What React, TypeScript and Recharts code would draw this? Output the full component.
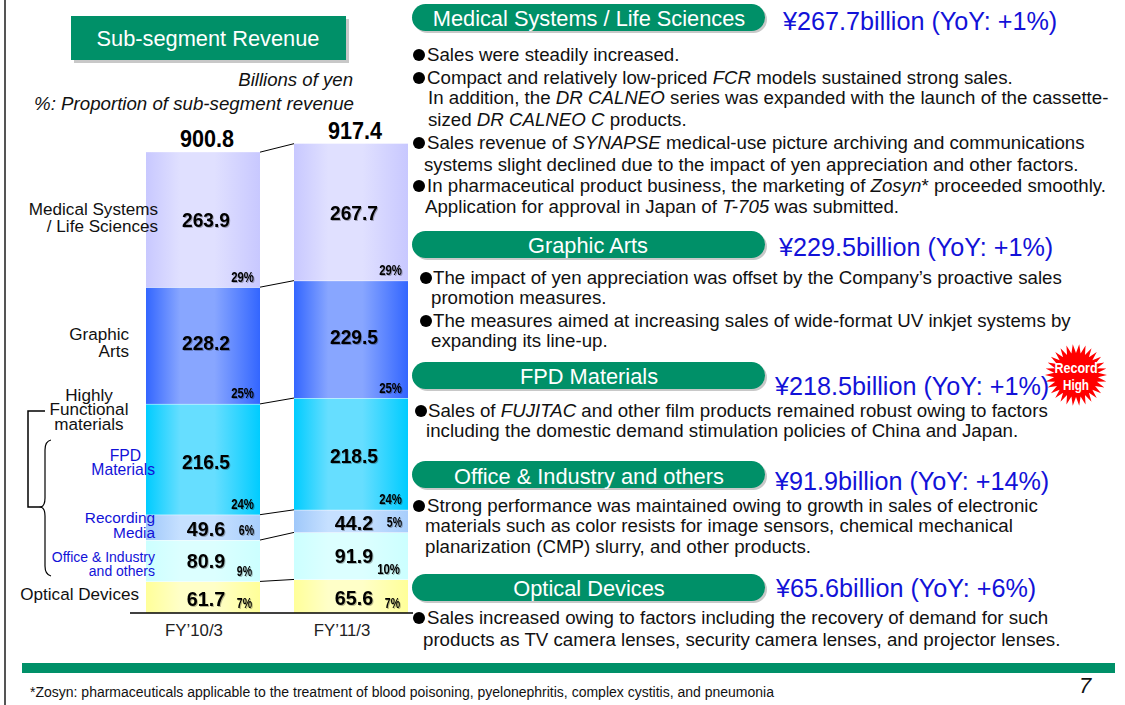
import React from "react";
import { BarChart, Bar, XAxis, YAxis, LabelList } from "recharts";

const FONT = "'Liberation Sans', Arial, sans-serif";
const categories = ["FY’10/3", "FY’11/3"];
const optical = [61.7, 65.6];
const office = [80.9, 91.9];
const recording = [49.6, 44.2];
const fpd = [216.5, 218.5];
const graphic = [228.2, 229.5];
const medical = [263.9, 267.7];
const totals = ["900.8", "917.4"];
const opticalPct = ["7%", "7%"];
const officePct = ["9%", "10%"];
const recordingPct = ["6%", "5%"];
const fpdPct = ["24%", "24%"];
const graphicPct = ["25%", "25%"];
const medicalPct = ["29%", "29%"];

const stackOrder = [optical, office, recording, fpd, graphic, medical];
const rows = categories.map((name, i) => ({
  name,
  optical: optical[i],
  office: office[i],
  recording: recording[i],
  fpd: fpd[i],
  graphic: graphic[i],
  medical: medical[i],
}));
const cumulative = (level: number, i: number) =>
  stackOrder.slice(0, level + 1).reduce((s, a) => s + a[i], 0);

const GREEN = "#009068";
const BLUE = "#1212d8";
const SHADOW = "drop-shadow(1px 1px 0 rgba(0,0,0,0.28))";
const GAP = 34;

function Segment(level: number, gradient: string) {
  return (p: any) => {
    const { x, y, width, height, index, value } = p;
    const span = Array.isArray(value) ? value[1] - value[0] : value;
    const perUnit = height / span;
    const nextY = index === 0 ? y - (cumulative(level, 1) - cumulative(level, 0)) * perUnit : 0;
    return (
      <g>
        <rect x={x} y={y} width={width} height={height} fill={`url(#${gradient})`} />
        {level < 5 && <line x1={x} x2={x + width} y1={y} y2={y} stroke="#fff" strokeWidth={1} />}
        {index === 0 && (
          <line x1={x + width} y1={y} x2={x + width + GAP} y2={nextY} stroke="#000" strokeWidth={1} />
        )}
      </g>
    );
  };
}

function valueLabel(dy: number) {
  return (p: any) => {
    const label = String(p.value);
    return (
      <text
        x={p.x + p.width / 2 + 3}
        y={p.y + p.height / 2 + dy}
        textAnchor="middle"
        dominantBaseline="central"
        fontFamily={FONT}
        fontWeight="bold"
        fontSize={21}
        textLength={9.6 * label.length}
        lengthAdjust="spacingAndGlyphs"
        fill="#000"
        style={{ filter: SHADOW }}
      >
        {label}
      </text>
    );
  };
}

function pctLabel(list: string[], dx: number) {
  return (p: any) => {
    const label = list[p.index];
    return (
      <text
        x={p.x + p.width - dx}
        y={p.y + p.height - 11}
        textAnchor="end"
        dominantBaseline="central"
        fontFamily={FONT}
        fontWeight="bold"
        fontSize={15}
        textLength={label.length * 7.6}
        lengthAdjust="spacingAndGlyphs"
        fill="#000"
        style={{ filter: SHADOW }}
      >
        {label}
      </text>
    );
  };
}

const totalLabel = (p: any) => (
  <text
    x={p.x + p.width / 2 + 4}
    y={p.y - 13}
    textAnchor="middle"
    dominantBaseline="central"
    fontFamily={FONT}
    fontWeight="bold"
    fontSize={23}
    textLength={54}
    lengthAdjust="spacingAndGlyphs"
    fill="#000"
  >
    {totals[p.index]}
  </text>
);

const grads: [string, string, string, string][] = [
  ["gMed", "#c8c8ff", "#e0e0ff", "#c8c8ff"],
  ["gGra", "#3366ff", "#88a6ff", "#3366ff"],
  ["gFpd", "#00ccff", "#66deff", "#00ccff"],
  ["gRec", "#9fc8fa", "#c6e0ff", "#a8cefc"],
  ["gOff", "#ccffff", "#dcffff", "#ccffff"],
  ["gOpt", "#ffff99", "#ffffc8", "#ffff99"],
];

type TP = {
  x: number;
  y: number;
  s: number;
  c?: string;
  a?: "l" | "c" | "r";
  b?: boolean;
  i?: boolean;
  children: React.ReactNode;
};
function T({ x, y, s, c = "#111", a = "l", b, i, children }: TP) {
  const tx = a === "l" ? "0" : a === "c" ? "-50%" : "-100%";
  return (
    <div
      style={{
        position: "absolute",
        left: x,
        top: y,
        transform: `translate(${tx},-50%)`,
        fontSize: s,
        color: c,
        fontWeight: b ? "bold" : "normal",
        fontStyle: i ? "italic" : "normal",
        whiteSpace: "nowrap",
        lineHeight: 1,
        fontFamily: FONT,
      }}
    >
      {children}
    </div>
  );
}

function Box({ x, y, w, h, r = 0 }: { x: number; y: number; w: number; h: number; r?: number }) {
  return (
    <div
      style={{
        position: "absolute",
        left: x,
        top: y,
        width: w,
        height: h,
        background: GREEN,
        borderRadius: r,
        boxShadow: r ? "2px 2px 0 #c8c8c8" : "3px 3px 0 #c8c8c8",
      }}
    />
  );
}

function Dot({ x, y }: { x: number; y: number }) {
  return (
    <div
      style={{
        position: "absolute",
        left: x - 1,
        top: y - 6,
        width: 12,
        height: 12,
        borderRadius: "50%",
        background: "#000",
      }}
    />
  );
}

const bursts = Array.from({ length: 60 }, (_, k) => {
  const a = (k * Math.PI) / 30;
  const r = k % 2 === 0 ? 31 : 22;
  return `${1076 + r * Math.cos(a)},${375 + r * Math.sin(a)}`;
}).join(" ");

const BODY = 18.7;
const E = ({ children }: { children: React.ReactNode }) => <i>{children}</i>;
const LBL = 17.1;

export default function App() {
  return (
    <div style={{ position: "absolute", left: 0, top: 0, width: 1125, height: 705, background: "#fff", overflow: "hidden" }}>
      <div style={{ position: "absolute", left: 4, top: 0, width: 2, height: 705, background: "#555" }} />
      <div style={{ position: "absolute", left: 0, top: 0 }}>
        <BarChart
          width={1125}
          height={705}
          data={rows}
          margin={{ left: 130, right: 712, top: 127, bottom: 0 }}
          barSize={114}
        >
          <defs>
            {grads.map(([id, a, b, c]) => (
              <linearGradient key={id} id={id} x1="0" x2="1" y1="0" y2="0">
                <stop offset="0%" stopColor={a} />
                <stop offset="30%" stopColor={b} />
                <stop offset="60%" stopColor={b} />
                <stop offset="100%" stopColor={c} />
              </linearGradient>
            ))}
          </defs>
          <XAxis
            dataKey="name"
            height={92}
            padding={{ left: -1, right: -12 }}
            axisLine={{ stroke: "#000", strokeWidth: 1.5 }}
            tickLine={false}
            interval={0}
            dx={-9}
            dy={3}
            tick={{ fontSize: 16.8, fontFamily: FONT, fill: "#222" }}
          />
          <YAxis hide domain={[0, 950]} />
          <Bar dataKey="optical" stackId="s" isAnimationActive={false} shape={Segment(0, "gOpt")}>
            <LabelList dataKey="optical" content={valueLabel(1)} />
            <LabelList dataKey="optical" content={pctLabel(opticalPct, 8)} />
          </Bar>
          <Bar dataKey="office" stackId="s" isAnimationActive={false} shape={Segment(1, "gOff")}>
            <LabelList dataKey="office" content={valueLabel(0)} />
            <LabelList dataKey="office" content={pctLabel(officePct, 8)} />
          </Bar>
          <Bar dataKey="recording" stackId="s" isAnimationActive={false} shape={Segment(2, "gRec")}>
            <LabelList dataKey="recording" content={valueLabel(1)} />
            <LabelList dataKey="recording" content={pctLabel(recordingPct, 6)} />
          </Bar>
          <Bar dataKey="fpd" stackId="s" isAnimationActive={false} shape={Segment(3, "gFpd")}>
            <LabelList dataKey="fpd" content={valueLabel(2)} />
            <LabelList dataKey="fpd" content={pctLabel(fpdPct, 6)} />
          </Bar>
          <Bar dataKey="graphic" stackId="s" isAnimationActive={false} shape={Segment(4, "gGra")}>
            <LabelList dataKey="graphic" content={valueLabel(-3)} />
            <LabelList dataKey="graphic" content={pctLabel(graphicPct, 6)} />
          </Bar>
          <Bar dataKey="medical" stackId="s" isAnimationActive={false} shape={Segment(5, "gMed")}>
            <LabelList dataKey="medical" content={valueLabel(0)} />
            <LabelList dataKey="medical" content={pctLabel(medicalPct, 6)} />
            <LabelList dataKey="medical" content={totalLabel} />
          </Bar>
        </BarChart>
      </div>

      <svg style={{ position: "absolute", left: 0, top: 0 }} width={1125} height={705}>
        <path d="M45 411 H28 V507 H42" fill="none" stroke="#000" strokeWidth={1.5} />
        <path d="M51 440 C46 441 45 445 45 450 V498 C45 503 44 506 41 507 C44 508 45 511 45 516 V566 C45 572 47 575 51 576" fill="none" stroke="#000" strokeWidth={1.2} />
        <polygon points={bursts} fill="#ff0000" />
        <text x={1076} y={373} textAnchor="middle" fontFamily={FONT} fontWeight="bold" fontSize={14} fill="#fff" textLength={43} lengthAdjust="spacingAndGlyphs">Record</text>
        <text x={1076} y={390} textAnchor="middle" fontFamily={FONT} fontWeight="bold" fontSize={14} fill="#fff" textLength={26} lengthAdjust="spacingAndGlyphs">High</text>
      </svg>

      <Box x={71} y={16} w={275} h={44} />
      <T x={208} y={38.5} s={21.8} c="#fff" a="c">Sub-segment Revenue</T>
      <T x={353} y={80} s={18.6} a="r" i>Billions of yen</T>
      <T x={354} y={104} s={18.7} a="r" i>%: Proportion of sub-segment revenue</T>

      <T x={158} y={210} s={LBL} a="r">Medical Systems</T>
      <T x={158} y={227} s={LBL} a="r">/ Life Sciences</T>
      <T x={129} y={335} s={LBL} a="r">Graphic</T>
      <T x={129} y={352} s={LBL} a="r">Arts</T>
      <T x={89} y={396} s={LBL} a="c">Highly</T>
      <T x={89} y={410} s={LBL} a="c">Functional</T>
      <T x={89} y={425} s={LBL} a="c">materials</T>
      <T x={141} y={456} s={15.7} c={BLUE} a="r">FPD</T>
      <T x={155} y={470} s={15.7} c={BLUE} a="r">Materials</T>
      <T x={155} y={518} s={15.4} c={BLUE} a="r">Recording</T>
      <T x={155} y={533} s={15.4} c={BLUE} a="r">Media</T>
      <T x={155} y={556.5} s={14} c={BLUE} a="r">Office &amp; Industry</T>
      <T x={155} y={570.5} s={14} c={BLUE} a="r">and others</T>
      <T x={139} y={595} s={LBL} a="r">Optical Devices</T>

      <Box x={412} y={4} w={353} h={27} r={14} />
      <T x={589} y={18.5} s={21.8} c="#fff" a="c">Medical Systems / Life Sciences</T>
      <T x={783} y={22} s={25.2} c={BLUE}>¥267.7billion (YoY: +1%)</T>
      <Box x={412} y={231} w={353} h={27} r={14} />
      <T x={588} y={245.5} s={21.8} c="#fff" a="c">Graphic Arts</T>
      <T x={779} y={248} s={25.2} c={BLUE}>¥229.5billion (YoY: +1%)</T>
      <Box x={412} y={362} w={353} h={27} r={14} />
      <T x={589} y={376.5} s={21.8} c="#fff" a="c">FPD Materials</T>
      <T x={775} y={387} s={25.2} c={BLUE}>¥218.5billion (YoY: +1%)</T>
      <Box x={412} y={461} w={353} h={27} r={14} />
      <T x={589} y={476.5} s={21.8} c="#fff" a="c">Office &amp; Industry and others</T>
      <T x={775} y={482} s={25.2} c={BLUE}>¥91.9billion (YoY: +14%)</T>
      <Box x={412} y={574} w={353} h={27} r={14} />
      <T x={589} y={588.5} s={21.8} c="#fff" a="c">Optical Devices</T>
      <T x={776} y={589} s={25.2} c={BLUE}>¥65.6billion (YoY: +6%)</T>

      <Dot x={414} y={55} /><T x={427} y={55} s={BODY}>Sales were steadily increased.</T>
      <Dot x={414} y={78} /><T x={427} y={78} s={BODY}>Compact and relatively low-priced <E>FCR</E> models sustained strong sales.</T>
      <T x={428} y={98} s={BODY}>In addition, the <E>DR CALNEO</E> series was expanded with the launch of the cassette-</T>
      <T x={428} y={120} s={BODY}>sized <E>DR CALNEO C</E> products.</T>
      <Dot x={414} y={143} /><T x={427} y={143} s={BODY}>Sales revenue of <E>SYNAPSE</E> medical-use picture archiving and communications</T>
      <T x={424} y={165} s={BODY}>systems slight declined due to the impact of yen appreciation and other factors.</T>
      <Dot x={414} y={186} /><T x={427} y={186} s={BODY}>In pharmaceutical product business, the marketing of <E>Zosyn</E>* proceeded smoothly.</T>
      <T x={425} y={207} s={BODY}>Application for approval in Japan of <E>T-705</E> was submitted.</T>

      <Dot x={421} y={278} /><T x={433} y={278} s={BODY}>The impact of yen appreciation was offset by the Company’s proactive sales</T>
      <T x={431} y={298} s={BODY}>promotion measures.</T>
      <Dot x={421} y={321} /><T x={433} y={321} s={BODY}>The measures aimed at increasing sales of wide-format UV inkjet systems by</T>
      <T x={431} y={341} s={BODY}>expanding its line-up.</T>

      <Dot x={416} y={411} /><T x={428} y={411} s={BODY}>Sales of <E>FUJITAC</E> and other film products remained robust owing to factors</T>
      <T x={426} y={431} s={BODY}>including the domestic demand stimulation policies of China and Japan.</T>

      <Dot x={414} y={506} /><T x={427} y={506} s={BODY}>Strong performance was maintained owing to growth in sales of electronic</T>
      <T x={425} y={526} s={BODY}>materials such as color resists for image sensors, chemical mechanical</T>
      <T x={425} y={547} s={BODY}>planarization (CMP) slurry, and other products.</T>

      <Dot x={414} y={618} /><T x={427} y={618} s={BODY}>Sales increased owing to factors including the recovery of demand for such</T>
      <T x={423} y={640} s={BODY}>products as TV camera lenses, security camera lenses, and projector lenses.</T>

      <div style={{ position: "absolute", left: 22, top: 663, width: 1093, height: 10, background: GREEN }} />
      <T x={30} y={692} s={14}>*Zosyn: pharmaceuticals applicable to the treatment of blood poisoning, pyelonephritis, complex cystitis, and pneumonia</T>
      <T x={1079} y={686} s={22} i>7</T>
    </div>
  );
}
